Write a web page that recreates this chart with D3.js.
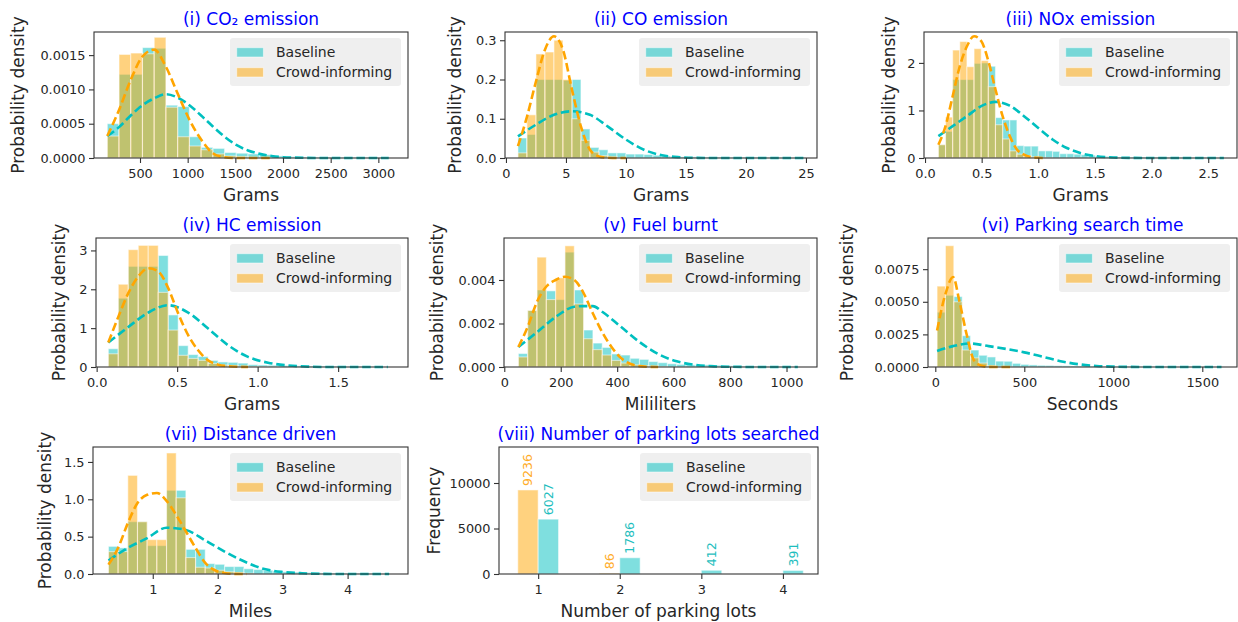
<!DOCTYPE html>
<html><head><meta charset="utf-8">
<script src="https://cdn.jsdelivr.net/npm/d3@7"></script>
<style>
body{margin:0;background:#fff;}
svg{display:block;font-family:"DejaVu Sans",sans-serif;}
</style></head><body>
<svg id="c" width="1238" height="622"></svg>
<script>
// ---------------- DATA ----------------
const seriesNames = ["Baseline", "Crowd-informing"];

// (i) CO2
const co2Edges = [157,280,403,526,649,772,895,1018,1141,1264,1387,1510,1633,1756,1879,2002,2125,2248,2371,2494,2617,2740,2863,2986,3109];
const co2Base  = [0.00050,0.00122,0.00122,0.00161,0.00160,0.00077,0.00075,0.00031,0.000155,0.00014,0.00008,0.00007,0.00006,0.00005,0.00003,0.00002,0.000015,0.00001,0.00001,0.000008,0.000006,0.000005,0.000004,0.000003];
const co2Crowd = [0.00032,0.00151,0.00153,0.00152,0.00176,0.00074,0.00031,0.000175,0.00012,0.00006,0.00003,0.00002,0.00001,0.000005];
const co2BaseFit  = [[157,0.00032],[280,0.00045],[403,0.00062],[526,0.00077],[649,0.00087],[772,0.00093],[895,0.00088],[1018,0.00077],[1141,0.00062],[1264,0.00046],[1387,0.00031],[1510,0.00019],[1633,0.00011],[1756,0.00006],[1879,0.00003],[2002,0.000012],[2125,0.000005],[2248,0.000002],[2500,0],[3109,0]];
const co2CrowdFit = [[157,0.00032],[280,0.0007],[403,0.00114],[526,0.00148],[649,0.00158],[772,0.00133],[895,0.00094],[1018,0.00056],[1141,0.00027],[1264,0.00007],[1387,0.00001],[1510,0],[1879,0]];
const co2XTicks = [500,1000,1500,2000,2500,3000];
const co2YTicks = [0,0.0005,0.0010,0.0015];

// (ii) CO
const coEdges = [1.0,1.75,2.5,3.25,4.0,4.75,5.5,6.25,7.0,7.75,8.5,9.25,10.0,10.75,11.5,12.25,13.0,13.75,14.5,15.25,16.0,16.75,17.5,18.25,19.0,19.75,20.5,21.25,22.0,22.75,23.5,24.25,25.0];
const coBase  = [0.051,0.06,0.2,0.2,0.2,0.198,0.2,0.074,0.027,0.021,0.013,0.013,0.01,0.01,0.009,0.007,0.005,0.004,0.003,0.003,0.002,0.002,0.0015,0.0012,0.001,0.001,0.0008,0.0006,0.0005,0.0004,0.0003,0.0003];
const coCrowd = [0.013,0.11,0.265,0.27,0.30,0.20,0.10,0.045,0.015,0.006,0.003,0.001];
const coBaseFit  = [[1.0,0.055],[2.5,0.085],[4.0,0.11],[5.5,0.119],[7.0,0.11],[8.5,0.08],[10.0,0.047],[11.5,0.021],[13.0,0.007],[14.5,0.002],[16.0,0.0004],[17.5,0],[25.0,0]];
const coCrowdFit = [[1.0,0.03],[1.75,0.105],[2.5,0.195],[3.25,0.276],[4.0,0.31],[4.75,0.276],[5.5,0.174],[6.25,0.08],[7.0,0.021],[7.75,0.004],[8.5,0.0005],[9.25,0],[10.0,0]];
const coXTicks = [0,5,10,15,20,25];
const coYTicks = [0,0.1,0.2,0.3];

// (iii) NOx
const noxEdges = [0.118,0.181,0.244,0.307,0.370,0.433,0.496,0.559,0.622,0.685,0.748,0.811,0.874,0.937,1.000,1.063,1.126,1.189,1.252,1.315,1.378,1.441,1.504,1.567,1.630,1.693,1.756,1.819,1.882,1.945,2.008,2.071,2.134,2.197,2.260,2.323,2.386,2.449,2.512,2.575,2.638];
const noxBase  = [0.28,0.56,1.65,1.65,1.65,1.99,2.0,1.93,0.85,0.80,0.80,0.26,0.25,0.25,0.15,0.15,0.14,0.09,0.09,0.08,0.07,0.06,0.04,0.035,0.03,0.02,0.02,0.015,0.015,0.01,0.01,0.01,0.008,0.006,0.005,0.004,0.003,0.003,0.002,0.002];
const noxCrowd = [0.28,0.86,2.27,2.45,1.92,2.30,2.05,1.50,0.70,0.40,0.15,0.08,0.05,0.025,0.01,0.005];
const noxBaseFit  = [[0.118,0.46],[0.244,0.67],[0.370,0.88],[0.496,1.09],[0.622,1.18],[0.748,1.1],[0.874,0.88],[1.0,0.63],[1.126,0.39],[1.252,0.21],[1.378,0.1],[1.504,0.04],[1.63,0.015],[1.8,0.003],[2.0,0],[2.638,0]];
const noxCrowdFit = [[0.118,0.28],[0.181,0.67],[0.244,1.3],[0.307,1.93],[0.370,2.35],[0.433,2.56],[0.496,2.46],[0.559,2.04],[0.622,1.44],[0.685,0.88],[0.748,0.46],[0.811,0.18],[0.874,0.07],[0.937,0.02],[1.0,0.004],[1.063,0]];
const noxXTicks = [0,0.5,1.0,1.5,2.0,2.5];
const noxYTicks = [0,1,2];

// (iv) HC
const hcEdges = [0.0725,0.1345,0.1965,0.2585,0.3205,0.3825,0.4445,0.5065,0.5685,0.6305,0.6925,0.7545,0.8165,0.8785,0.9405,1.0025,1.0645,1.1265,1.1885,1.2505,1.3125,1.3745,1.4365,1.4985,1.5605,1.6225,1.6845,1.7465,1.8085];
const hcBase  = [0.47,1.77,2.59,2.59,2.59,2.87,1.34,0.55,0.32,0.27,0.17,0.13,0.12,0.10,0.06,0.05,0.045,0.04,0.035,0.03,0.025,0.02,0.015,0.01,0.01,0.008,0.005,0.005];
const hcCrowd = [0.34,2.13,3.02,3.13,3.13,1.92,0.95,0.30,0.22,0.17,0.09,0.05,0.03,0.02,0.01,0.005,0.003];
const hcBaseFit  = [[0.0725,0.63],[0.1965,1.03],[0.3205,1.4],[0.4445,1.59],[0.5685,1.4],[0.6925,0.99],[0.8165,0.56],[0.9405,0.26],[1.0645,0.11],[1.1885,0.04],[1.3125,0.01],[1.45,0],[1.8085,0]];
const hcCrowdFit = [[0.0725,0.63],[0.1345,1.29],[0.1965,1.9],[0.2585,2.33],[0.3205,2.54],[0.3825,2.46],[0.4445,2.03],[0.5065,1.38],[0.5685,0.82],[0.6305,0.43],[0.6925,0.17],[0.7545,0.06],[0.8165,0.02],[0.8785,0.005],[0.94,0]];
const hcXTicks = [0,0.5,1.0,1.5];
const hcYTicks = [0,1,2,3];

// (v) Fuel burnt
const fuelEdges = [50,83,116,149,182,215,248,281,314,347,380,413,446,479,512,545,578,611,644,677,710,743,776,809,842,875,908,941,974,1007,1040];
const fuelBase  = [0.00062,0.0026,0.00354,0.0035,0.0031,0.00528,0.00354,0.0017,0.0011,0.0009,0.0006,0.00055,0.0004,0.00035,0.00025,0.0002,0.00015,0.00012,0.0001,0.0001,0.0001,0.00008,0.00006,0.00004,0.00003,0.00002,0.00002,0.00001,0.00001,0.00001];
const fuelCrowd = [0.00046,0.0026,0.00505,0.0031,0.0041,0.00557,0.0029,0.0013,0.0008,0.00055,0.0003,0.00018,0.0001,0.00006,0.00004,0.00002];
const fuelBaseFit  = [[50,0.00092],[116,0.0016],[182,0.0023],[248,0.00277],[281,0.0028],[314,0.0028],[347,0.00254],[413,0.00185],[479,0.00115],[545,0.0006],[611,0.00026],[677,0.0001],[743,0.00003],[809,0.00001],[900,0],[1040,0]];
const fuelCrowdFit = [[50,0.00092],[83,0.00185],[116,0.003],[149,0.0037],[182,0.004],[215,0.00415],[248,0.004],[281,0.0034],[314,0.00246],[347,0.0016],[380,0.00092],[413,0.00042],[446,0.00015],[479,0.00004],[512,0.00001],[545,0]];
const fuelXTicks = [0,200,400,600,800,1000];
const fuelYTicks = [0,0.002,0.004];

// (vi) Parking search time
const timeEdges = [10,57,104,151,198,245,292,339,386,433,480,527,574,621,668,715,762,809,856,903,950,997,1044,1091,1138,1185,1232,1279,1326,1373,1420,1467,1514,1561,1608];
const timeBase  = [0.0042,0.0055,0.0054,0.0024,0.0013,0.0009,0.00077,0.00045,0.00044,0.00028,0.0002,0.00016,0.00013,0.00012,0.0001,0.00009,0.00007,0.00006,0.00005,0.00004,0.00004,0.00003,0.00003,0.00002,0.00002,0.00002,0.00001,0.00001,0.00001,0.00001,0.00001,0.00001,0.000005,0.000005];
const timeCrowd = [0.0062,0.0093,0.0050,0.0013,0.0007,0.0003,0.0001,0.00005,0.00002];
const timeBaseFit  = [[10,0.00123],[100,0.0016],[195,0.0018],[300,0.0016],[400,0.00138],[500,0.00112],[600,0.0008],[719,0.0004],[800,0.00022],[906,0.00008],[1000,0.00003],[1100,0.00001],[1200,0],[1608,0]];
const timeCrowdFit = [[10,0.0028],[57,0.0056],[100,0.0069],[136,0.005],[177,0.00245],[216,0.00054],[258,0.0001],[300,0.00001],[340,0],[433,0]];
const timeXTicks = [0,500,1000,1500];
const timeYTicks = [0,0.0025,0.0050,0.0075];

// (vii) Distance driven
const distEdges = [0.318,0.467,0.616,0.765,0.914,1.063,1.212,1.361,1.510,1.659,1.808,1.957,2.106,2.255,2.404,2.553,2.702,2.851,3.000,3.149,3.298,3.447,3.596,3.745,3.894,4.043,4.192,4.341,4.490,4.639];
const distBase  = [0.37,0.35,0.70,0.70,0.38,0.38,1.12,1.12,0.33,0.33,0.14,0.13,0.10,0.10,0.07,0.06,0.05,0.04,0.03,0.025,0.02,0.015,0.012,0.01,0.008,0.006,0.005,0.004,0.003];
const distCrowd = [0.30,0.30,1.32,0.70,0.46,0.46,1.62,1.02,0.22,0.09,0.08,0.05,0.03,0.02,0.01];
const distBaseFit  = [[0.318,0.18],[0.616,0.35],[0.914,0.48],[1.212,0.62],[1.510,0.59],[1.808,0.45],[2.106,0.3],[2.404,0.17],[2.702,0.07],[3.0,0.027],[3.298,0.01],[3.6,0.002],[4.0,0],[4.639,0]];
const distCrowdFit = [[0.318,0.125],[0.467,0.35],[0.616,0.68],[0.765,0.95],[0.914,1.06],[1.063,1.085],[1.212,0.98],[1.361,0.79],[1.510,0.57],[1.659,0.35],[1.808,0.15],[1.957,0.05],[2.106,0.013],[2.255,0.002],[2.45,0]];
const distXTicks = [1,2,3,4];
const distYTicks = [0,0.5,1.0,1.5];

// (viii) Number of parking lots searched
const lots = [1,2,3,4];
const lotsBase  = [6027,1786,412,391];
const lotsCrowd = [9236,86,0,0];
const lotsXTicks = [1,2,3,4];
const lotsYTicks = [0,5000,10000];

// ---------------- LAYOUT / STYLE ----------------
const TEAL = "rgb(0,191,191)", ORANGE = "rgb(255,165,0)";
const TEXT = "#262626";

const panels = [
  {title:"(i) CO₂ emission", xl:"Grams", yl:"Probability density", box:[94,32,408,158], xd:[17.5,3311], yd:[0,0.001837], xt:co2XTicks, yt:co2YTicks, xf:"d", yf:".4f", e:co2Edges, b:co2Base, c:co2Crowd, bf:co2BaseFit, cf:co2CrowdFit, ylx:23.5},
  {title:"(ii) CO emission", xl:"Grams", yl:"Probability density", box:[505,32,817,158], xd:[-0.08,25.92], yd:[0,0.321], xt:coXTicks, yt:coYTicks, xf:"d", yf:".1f", e:coEdges, b:coBase, c:coCrowd, bf:coBaseFit, cf:coCrowdFit, ylx:461},
  {title:"(iii) NOx emission", xl:"Grams", yl:"Probability density", box:[924,32,1237,158], xd:[-0.009,2.754], yd:[0,2.65], xt:noxXTicks, yt:noxYTicks, xf:".1f", yf:"d", e:noxEdges, b:noxBase, c:noxCrowd, bf:noxBaseFit, cf:noxCrowdFit, ylx:895},
  {title:"(iv) HC emission", xl:"Grams", yl:"Probability density", box:[96,238,408,367], xd:[-0.004,1.934], yd:[0,3.32], xt:hcXTicks, yt:hcYTicks, xf:".1f", yf:"d", e:hcEdges, b:hcBase, c:hcCrowd, bf:hcBaseFit, cf:hcCrowdFit, ylx:65},
  {title:"(v) Fuel burnt", xl:"Mililiters", yl:"Probability density", box:[504,238,817,367], xd:[-1,1108], yd:[0,0.00593], xt:fuelXTicks, yt:fuelYTicks, xf:"d", yf:".3f", e:fuelEdges, b:fuelBase, c:fuelCrowd, bf:fuelBaseFit, cf:fuelCrowdFit, ylx:443},
  {title:"(vi) Parking search time", xl:"Seconds", yl:"Probability density", box:[928,238,1237,367], xd:[-41,1695], yd:[0,0.00989], xt:timeXTicks, yt:timeYTicks, xf:"d", yf:".4f", e:timeEdges, b:timeBase, c:timeCrowd, bf:timeBaseFit, cf:timeCrowdFit, ylx:853},
  {title:"(vii) Distance driven", xl:"Miles", yl:"Probability density", box:[93,447,408,574], xd:[0.08,4.93], yd:[0,1.70], xt:distXTicks, yt:distYTicks, xf:"d", yf:".1f", e:distEdges, b:distBase, c:distCrowd, bf:distBaseFit, cf:distCrowdFit, ylx:51},
  {title:"(viii) Number of parking lots searched", xl:"Number of parking lots", yl:"Frequency", box:[499,447,818,574], xd:[0.52,4.43], yd:[0,13956], xt:lotsXTicks, yt:lotsYTicks, xf:"d", yf:"d", bars:true, ylx:440}
];

const svg = d3.select("#c");

function frameAndAxes(g, p, x, y){
  const [l,t,r,b] = p.box;
  const xa = g.append("g").attr("transform",`translate(0,${b})`)
    .call(d3.axisBottom(x).tickValues(p.xt).tickFormat(d3.format(p.xf)).tickSize(5).tickPadding(6));
  const ya = g.append("g").attr("transform",`translate(${l},0)`)
    .call(d3.axisLeft(y).tickValues(p.yt).tickFormat(d3.format(p.yf)).tickSize(5).tickPadding(3.5));
  [xa,ya].forEach(a=>{
    a.select(".domain").remove();
    a.selectAll(".tick line").attr("stroke","#333").attr("stroke-width",1.1);
    a.selectAll(".tick text").attr("fill",TEXT).style("font-size","12.9px").style("font-family","DejaVu Sans");
  });
  g.append("rect").attr("x",l).attr("y",t).attr("width",r-l).attr("height",b-t)
    .attr("fill","none").attr("stroke","#333").attr("stroke-width",1.1);
  g.append("text").attr("x",(l+r)/2).attr("y",b+43).attr("text-anchor","middle")
    .attr("fill",TEXT).style("font-size","17px").text(p.xl);
  g.append("text").attr("transform",`translate(${p.ylx},${(t+b)/2}) rotate(-90)`).attr("text-anchor","middle")
    .attr("fill",TEXT).style("font-size","17px").text(p.yl);
  g.append("text").attr("x",(l+r)/2).attr("y",t-7).attr("text-anchor","middle")
    .attr("fill","#0000ff").style("font-size","17px").text(p.title);
}

function legend(g, p){
  const [l,t,r,b] = p.box;
  const w = 171, h = 48, lx = r-7-w, ly = t+6;
  const lg = g.append("g").attr("transform",`translate(${lx},${ly})`);
  lg.append("rect").attr("width",w).attr("height",h).attr("rx",3).attr("fill","#efefef");
  [TEAL, ORANGE].forEach((col,i)=>{
    lg.append("rect").attr("x",6.7).attr("y",9.7+20*i).attr("width",26.7).attr("height",9.3)
      .attr("fill",col).attr("fill-opacity",0.5).attr("stroke","#fff").attr("stroke-opacity",0.5);
    lg.append("text").attr("x",46).attr("y",19+20*i).attr("fill",TEXT).style("font-size","14px").text(seriesNames[i]);
  });
}

panels.forEach(p=>{
  const [l,t,r,b] = p.box;
  const g = svg.append("g");
  const x = d3.scaleLinear().domain(p.xd).range([l,r]);
  const y = d3.scaleLinear().domain(p.yd).range([b,t]);

  if(!p.bars){
    const hist = (vals,col)=>{
      const data = vals.map((v,i)=>({x0:p.e[i],x1:p.e[i+1],v})).filter(d=>d.v>0);
      g.append("g").selectAll("rect").data(data).join("rect")
        .attr("x",d=>x(d.x0)).attr("width",d=>x(d.x1)-x(d.x0))
        .attr("y",d=>y(d.v)).attr("height",d=>y(0)-y(d.v))
        .attr("fill",col).attr("fill-opacity",0.5)
        .attr("stroke","#fff").attr("stroke-opacity",0.5).attr("stroke-width",1.1);
    };
    hist(p.b,TEAL);
    hist(p.c,ORANGE);
    const line = d3.line().x(d=>x(d[0])).y(d=>y(d[1])).curve(d3.curveMonotoneX);
    [[p.bf,TEAL],[p.cf,ORANGE]].forEach(([pts,col])=>{
      g.append("path").attr("d",line(pts)).attr("fill","none").attr("stroke",col)
        .attr("stroke-width",2.6).attr("stroke-dasharray","8.5,3.8");
    });
  } else {
    const bw = 0.25;
    const bars = [];
    lots.forEach((k,i)=>{
      bars.push({x0:k-bw,x1:k,v:lotsCrowd[i],col:ORANGE,lab:"rgb(255,172,40)"});
      bars.push({x0:k,x1:k+bw,v:lotsBase[i],col:TEAL,lab:"rgb(30,190,190)"});
    });
    g.append("g").selectAll("rect").data(bars.filter(d=>d.v>0)).join("rect")
      .attr("x",d=>x(d.x0)).attr("width",d=>x(d.x1)-x(d.x0))
      .attr("y",d=>y(d.v)).attr("height",d=>y(0)-y(d.v))
      .attr("fill",d=>d.col).attr("fill-opacity",0.5)
      .attr("stroke","#fff").attr("stroke-opacity",0.5).attr("stroke-width",1.1);
    g.append("g").selectAll("text").data(bars.filter(d=>d.v>0)).join("text")
      .attr("transform",d=>`translate(${x((d.x0+d.x1)/2)},${y(d.v)-4}) rotate(-90)`)
      .attr("dominant-baseline","central").attr("text-anchor","start")
      .attr("fill",d=>d.lab).style("font-size","12.5px").text(d=>d.v);
  }
  frameAndAxes(g,p,x,y);
  legend(g,p);
});
</script>
</body></html>
